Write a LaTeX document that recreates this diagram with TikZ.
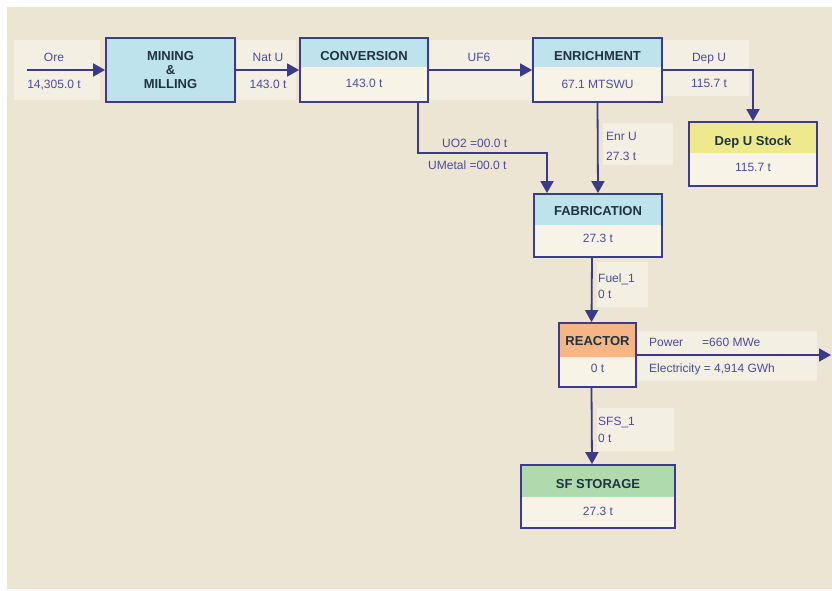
\documentclass[tikz,border=0pt]{standalone}
\usepackage{fontspec}
\setmainfont{Liberation Sans}
\usetikzlibrary{arrows.meta}

\definecolor{paper}{HTML}{EDE5D3}
\definecolor{tagbg}{HTML}{F4EFE3}
\definecolor{frame}{HTML}{3C3C8E}
\definecolor{flow}{HTML}{3A3A88}
\definecolor{headblue}{HTML}{BEE3ED}
\definecolor{headyellow}{HTML}{EDE98C}
\definecolor{headorange}{HTML}{F3B684}
\definecolor{headgreen}{HTML}{AEDAAE}
\definecolor{bodycream}{HTML}{F7F3E7}
\definecolor{titleink}{HTML}{1F3340}
\definecolor{valink}{HTML}{4B4B9E}

\tikzset{
  stagebox/.style={draw=frame, line width=1.8pt, fill=bodycream, inner sep=0pt},
  titletext/.style={font=\fontsize{13}{14}\selectfont\bfseries, text=titleink,
    inner sep=0pt, text height=0.72em, text depth=0pt},
  valtext/.style={font=\fontsize{12}{13}\selectfont, text=valink,
    inner sep=0pt, text height=0.72em, text depth=0pt},
  tagtext/.style={font=\fontsize{12}{13}\selectfont, text=valink,
    inner sep=0pt, text height=0.72em, text depth=0pt},
  tagpanel/.style={fill=tagbg, draw=none},
  flowline/.style={draw=flow, line width=1.8pt, -{Triangle[length=12pt,width=13pt]}},
}

% process stage: name, centre x, centre y, width, height, header height, header colour
\newcommand\stagenode[7]{%
  \node[stagebox, minimum width=#4pt, minimum height=#5pt,
    path picture={\fill[#7] (path picture bounding box.north west)
      rectangle ([yshift=-#6pt]path picture bounding box.north east);}]
    (#1) at (#2,#3) {};}

\begin{document}
\begin{tikzpicture}[x=1pt, y=-1pt]
  \useasboundingbox (0,0) rectangle (832,591);
  \fill[white] (0,0) rectangle (832,591);
  \fill[paper] (7,7) rectangle (832,589);

  % light panels behind the flow labels
  \fill[tagpanel] (14,40) rectangle (100,100);
  \fill[tagpanel] (237,40) rectangle (296,100);
  \fill[tagpanel] (430,40) rectangle (531,100);
  \fill[tagpanel] (663,40) rectangle (749,96);
  \fill[tagpanel] (603,123) rectangle (673,165);
  \fill[tagpanel] (597,262) rectangle (648,307);
  \fill[tagpanel] (638,331) rectangle (817,381);
  \fill[tagpanel] (597,408) rectangle (674,451);

  % stages
  \stagenode{mill}{170.5}{70}{129}{64}{64}{headblue}
  \stagenode{conv}{364}{70}{128}{64}{29}{headblue}
  \stagenode{enr}{597.5}{70}{129}{64}{29}{headblue}
  \stagenode{depu}{753}{154}{128}{64}{31}{headyellow}
  \stagenode{fab}{598}{225.5}{128}{63}{31}{headblue}
  \stagenode{reac}{597.5}{355}{77}{64}{34}{headorange}
  \stagenode{sfs}{598}{496.5}{154}{63}{32}{headgreen}

  % connectors
  \coordinate (feed) at (27,70);
  \coordinate (bend) at (418,153);
  \coordinate (grid) at (831,355);
  \draw[flowline] (feed) -- (mill.west);
  \draw[flowline] (mill.east) -- (conv.west);
  \draw[flowline] (conv.east) -- (enr.west);
  \draw[flowline] (enr.east) -| (depu.north);
  \draw[flowline] (enr.south) -- (fab.north);
  \draw[flowline] ([xshift=54pt]conv.south) -- (bend) -| ([xshift=-51pt]fab.north);
  \draw[flowline] ([xshift=-6pt]fab.south) -- ([xshift=-6pt]reac.north);
  \draw[flowline] (reac.east) -- (grid);
  \draw[flowline] ([xshift=-6pt]reac.south) -- ([xshift=-6pt]sfs.north);

  % stage texts
  \node[titletext] (mill-a) at (170.5,57) {MINING};
  \node[titletext] (mill-b) at (170.5,70.5) {\&};
  \node[titletext] (mill-c) at (170.5,84.5) {MILLING};
  \node[titletext] (conv-t) at (364,57) {CONVERSION};
  \node[valtext]   (conv-v) at (364,83.5) {143.0 t};
  \node[titletext] (enr-t) at (597.5,57) {ENRICHMENT};
  \node[valtext]   (enr-v) at (597.5,84.5) {67.1 MTSWU};
  \node[titletext] (depu-t) at (753,142) {Dep U Stock};
  \node[valtext]   (depu-v) at (753,168) {115.7 t};
  \node[titletext] (fab-t) at (598,212) {FABRICATION};
  \node[valtext]   (fab-v) at (598,239) {27.3 t};
  \node[titletext] (reac-t) at (597.5,342) {REACTOR};
  \node[valtext]   (reac-v) at (597.5,369) {0 t};
  \node[titletext] (sfs-t) at (598,485) {SF STORAGE};
  \node[valtext]   (sfs-v) at (598,512) {27.3 t};

  % flow labels
  \node[tagtext] (ore-a) at (54,58) {Ore};
  \node[tagtext] (ore-b) at (54,84.5) {14,305.0 t};
  \node[tagtext] (nat-a) at (268,57.5) {Nat U};
  \node[tagtext] (nat-b) at (268,84.5) {143.0 t};
  \node[tagtext] (uf6-a) at (479,57.5) {UF6};
  \node[tagtext] (dep-a) at (709,57.5) {Dep U};
  \node[tagtext] (dep-b) at (709,83.5) {115.7 t};
  \node[tagtext, anchor=west] (enru-a) at (606,137) {Enr U};
  \node[tagtext, anchor=west] (enru-b) at (606,157) {27.3 t};
  \node[tagtext, anchor=west] (uo2) at (442,144) {UO2 =00.0 t};
  \node[tagtext, anchor=west] (umet) at (428,166) {UMetal =00.0 t};
  \node[tagtext, anchor=west] (fuel-a) at (598,279) {Fuel\_1};
  \node[tagtext, anchor=west] (fuel-b) at (598,295) {0 t};
  \node[tagtext, anchor=west] (pow-a) at (649,343) {Power};
  \node[tagtext, anchor=west] (pow-b) at (702,343) {=660 MWe};
  \node[tagtext, anchor=west] (elec) at (649,369) {Electricity = 4,914 GWh};
  \node[tagtext, anchor=west] (sfs1-a) at (598,422) {SFS\_1};
  \node[tagtext, anchor=west] (sfs1-b) at (598,439) {0 t};
\end{tikzpicture}
\end{document}
